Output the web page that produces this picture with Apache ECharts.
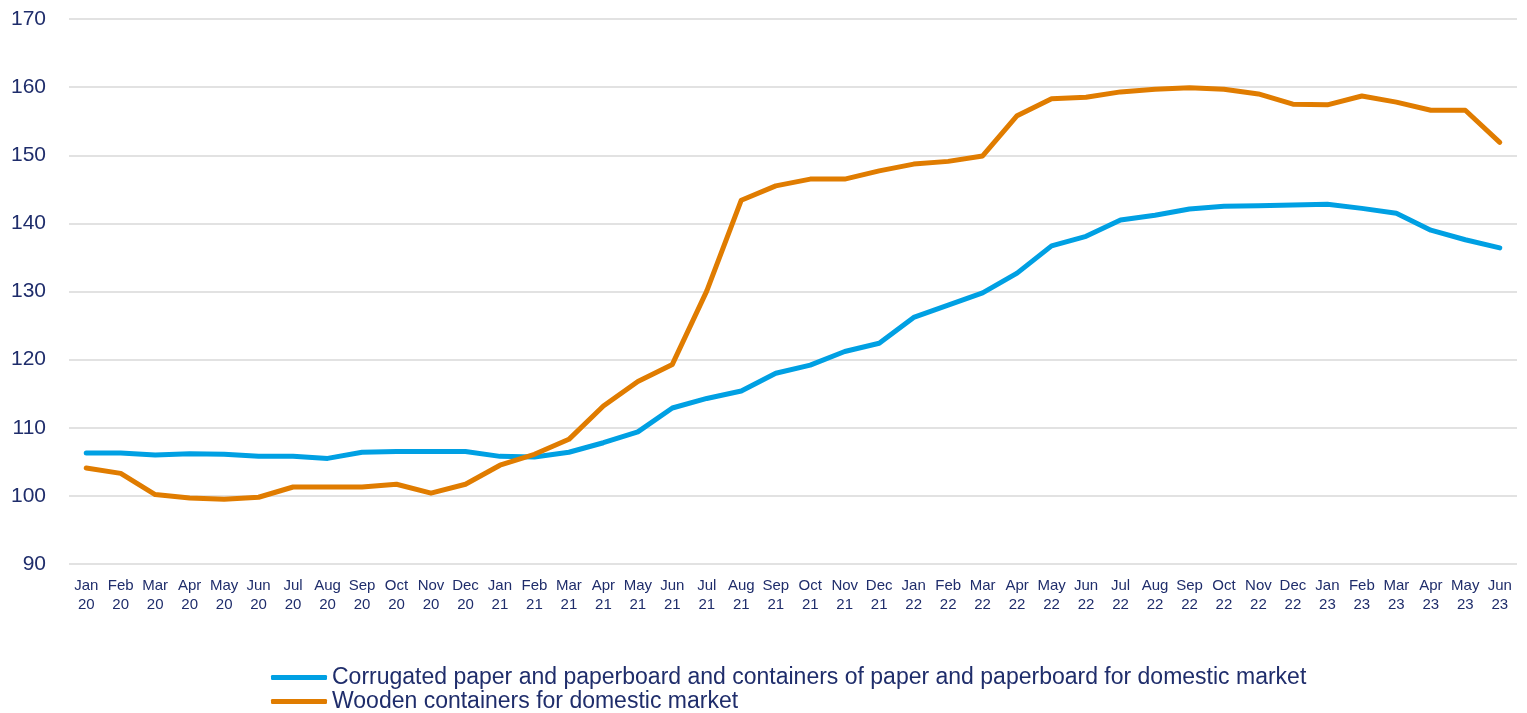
<!DOCTYPE html>
<html>
<head>
<meta charset="utf-8">
<script src="https://cdn.jsdelivr.net/npm/echarts@6/dist/echarts.min.js"></script>
<style>
html,body{margin:0;padding:0;background:#fff;}
#chart{width:1527px;height:713px;}
</style>
</head>
<body>
<div id="chart"></div>
<script>
const categories = [
  'Jan\n20','Feb\n20','Mar\n20','Apr\n20','May\n20','Jun\n20','Jul\n20','Aug\n20','Sep\n20','Oct\n20','Nov\n20','Dec\n20',
  'Jan\n21','Feb\n21','Mar\n21','Apr\n21','May\n21','Jun\n21','Jul\n21','Aug\n21','Sep\n21','Oct\n21','Nov\n21','Dec\n21',
  'Jan\n22','Feb\n22','Mar\n22','Apr\n22','May\n22','Jun\n22','Jul\n22','Aug\n22','Sep\n22','Oct\n22','Nov\n22','Dec\n22',
  'Jan\n23','Feb\n23','Mar\n23','Apr\n23','May\n23','Jun\n23'
];
const corrugatedName = 'Corrugated paper and paperboard and containers of paper and paperboard for domestic market';
const woodenName = 'Wooden containers for domestic market';
const corrugated = [
  106.3,106.3,106.0,106.2,106.1,105.8,105.8,105.5,106.4,106.5,106.5,106.5,
  105.8,105.7,106.4,107.8,109.4,112.9,114.3,115.4,118.0,119.2,121.2,122.4,
  126.2,128.0,129.8,132.7,136.7,138.1,140.5,141.2,142.1,142.5,142.6,142.7,
  142.8,142.2,141.5,139.0,137.6,136.4
];
const wooden = [
  104.1,103.3,100.2,99.7,99.5,99.8,101.3,101.3,101.3,101.7,100.4,101.7,
  104.5,106.1,108.3,113.2,116.8,119.3,130.1,143.4,145.5,146.5,146.5,147.7,
  148.7,149.1,149.9,155.8,158.3,158.5,159.3,159.7,159.9,159.7,159.0,157.5,
  157.4,158.7,157.8,156.6,156.6,151.9
];
const yTicks = {min: 90, max: 170, interval: 10};

const textColor = '#1f2d6b';
const legendText = {color: textColor, fontSize: 23, fontFamily: 'Liberation Sans, Arial, sans-serif'};
function makeLegend(name, top) {
  return {
    left: 266, top: top,
    itemWidth: 56, itemHeight: 5,
    icon: 'roundRect',
    textStyle: legendText,
    data: [name]
  };
}
const chart = echarts.init(document.getElementById('chart'));
chart.setOption({
  animation: false,
  grid: {left: 69, right: 10, top: 19, bottom: 149},
  legend: [makeLegend(corrugatedName, 661), makeLegend(woodenName, 685)],
  xAxis: {
    type: 'category',
    data: categories,
    boundaryGap: true,
    axisLine: {show: false},
    axisTick: {show: false},
    axisLabel: {color: textColor, fontSize: 15, lineHeight: 19, margin: 12, interval: 0, fontFamily: 'Liberation Sans, Arial, sans-serif'}
  },
  yAxis: {
    type: 'value',
    min: yTicks.min, max: yTicks.max, interval: yTicks.interval,
    axisLine: {show: false},
    axisTick: {show: false},
    axisLabel: {color: textColor, fontSize: 21, margin: 23, fontFamily: 'Liberation Sans, Arial, sans-serif'},
    splitLine: {lineStyle: {color: '#d9d9d9', width: 1.5}}
  },
  series: [
    {name: corrugatedName, type: 'line', data: corrugated, showSymbol: false, symbol: 'none',
     lineStyle: {color: '#00a0e3', width: 5, cap: 'round', join: 'round'}, itemStyle: {color: '#00a0e3'}},
    {name: woodenName, type: 'line', data: wooden, showSymbol: false, symbol: 'none',
     lineStyle: {color: '#e07c00', width: 5, cap: 'round', join: 'round'}, itemStyle: {color: '#e07c00'}}
  ]
});
</script>
</body>
</html>
